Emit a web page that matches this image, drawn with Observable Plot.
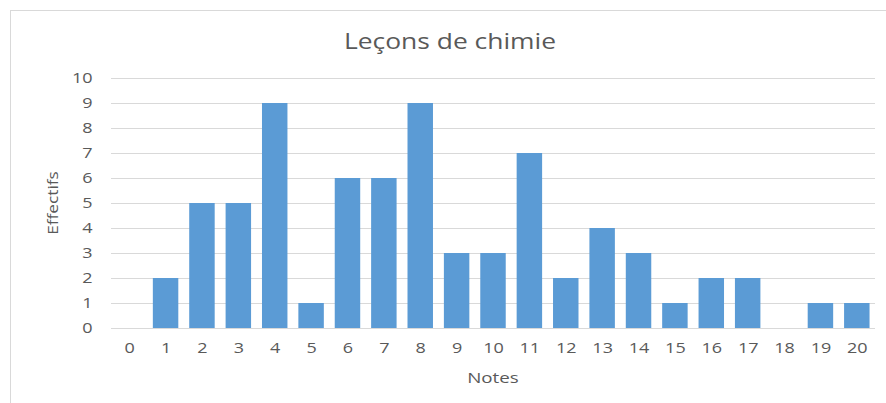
<!DOCTYPE html>
<html><head><meta charset="utf-8">
<script src="https://cdn.jsdelivr.net/npm/d3@7"></script>
<script src="https://cdn.jsdelivr.net/npm/@observablehq/plot@0.6"></script>
<style>
html,body{margin:0;padding:0;background:#fff;}
#wrap{position:relative;width:886px;height:403px;overflow:hidden;font-family:"Open Sans",sans-serif;color:#595959;}
#border{position:absolute;left:10px;top:10px;width:900px;height:420px;border:1px solid #d9d9d9;box-sizing:border-box;}
#title{position:absolute;left:0;width:900px;top:25px;text-align:center;font-size:22px;line-height:30px;transform:scaleX(1.2);transform-origin:450px 0;}
#xl{position:absolute;left:443px;width:100px;top:366px;text-align:center;font-size:15px;line-height:22px;transform:scaleX(1.25);}
#yl{position:absolute;left:52px;top:203px;transform:translate(-50%,-50%) rotate(-90deg) scaleX(1.15);font-size:15px;white-space:nowrap;}
#chart{position:absolute;left:0;top:0;}
</style></head>
<body><div id="wrap"><div id="border"></div><div id="chart"></div>
<div id="title">Leçons de chimie</div><div id="xl">Notes</div><div id="yl">Effectifs</div></div>
<script>
const notes = [0,1,2,3,4,5,6,7,8,9,10,11,12,13,14,15,16,17,18,19,20];
const effectifs = [0,2,5,5,9,1,6,6,9,3,3,7,2,4,3,1,2,2,0,1,1];
const yTicks = [0,1,2,3,4,5,6,7,8,9,10];
const data = notes.map((n,i)=>({note:n, eff:effectifs[i]}));
const chart = Plot.plot({
  width:886, height:403,
  marginLeft:111, marginRight:11, marginTop:78, marginBottom:75,
  style:{fontFamily:"Open Sans, sans-serif", fontSize:"15px", color:"#595959", background:"transparent"},
  x:{type:"band", domain:notes, paddingInner:0.3, paddingOuter:0.15, round:false},
  y:{domain:[0,10]},
  marks:[
    Plot.gridY(yTicks,{stroke:"#d9d9d9", strokeOpacity:1}),
    Plot.barY(data,{x:"note", y:"eff", fill:"#5b9bd5"}),
    Plot.ruleY([0],{stroke:"#d9d9d9"}),
    Plot.axisX({tickSize:0, tickPadding:14, label:null, fill:"#595959"}),
    Plot.axisY(yTicks,{tickSize:0, tickPadding:19, label:null, fill:"#595959"})
  ]
});
// horizontal stretch of tick label glyphs, as in the reference
d3.select(chart).selectAll("g[aria-label$='tick label'] text").each(function(){
  const t = this.getAttribute("transform") || "";
  this.setAttribute("transform", t + " scale(1.2,1)");
});
document.getElementById("chart").appendChild(chart);
</script></body></html>
